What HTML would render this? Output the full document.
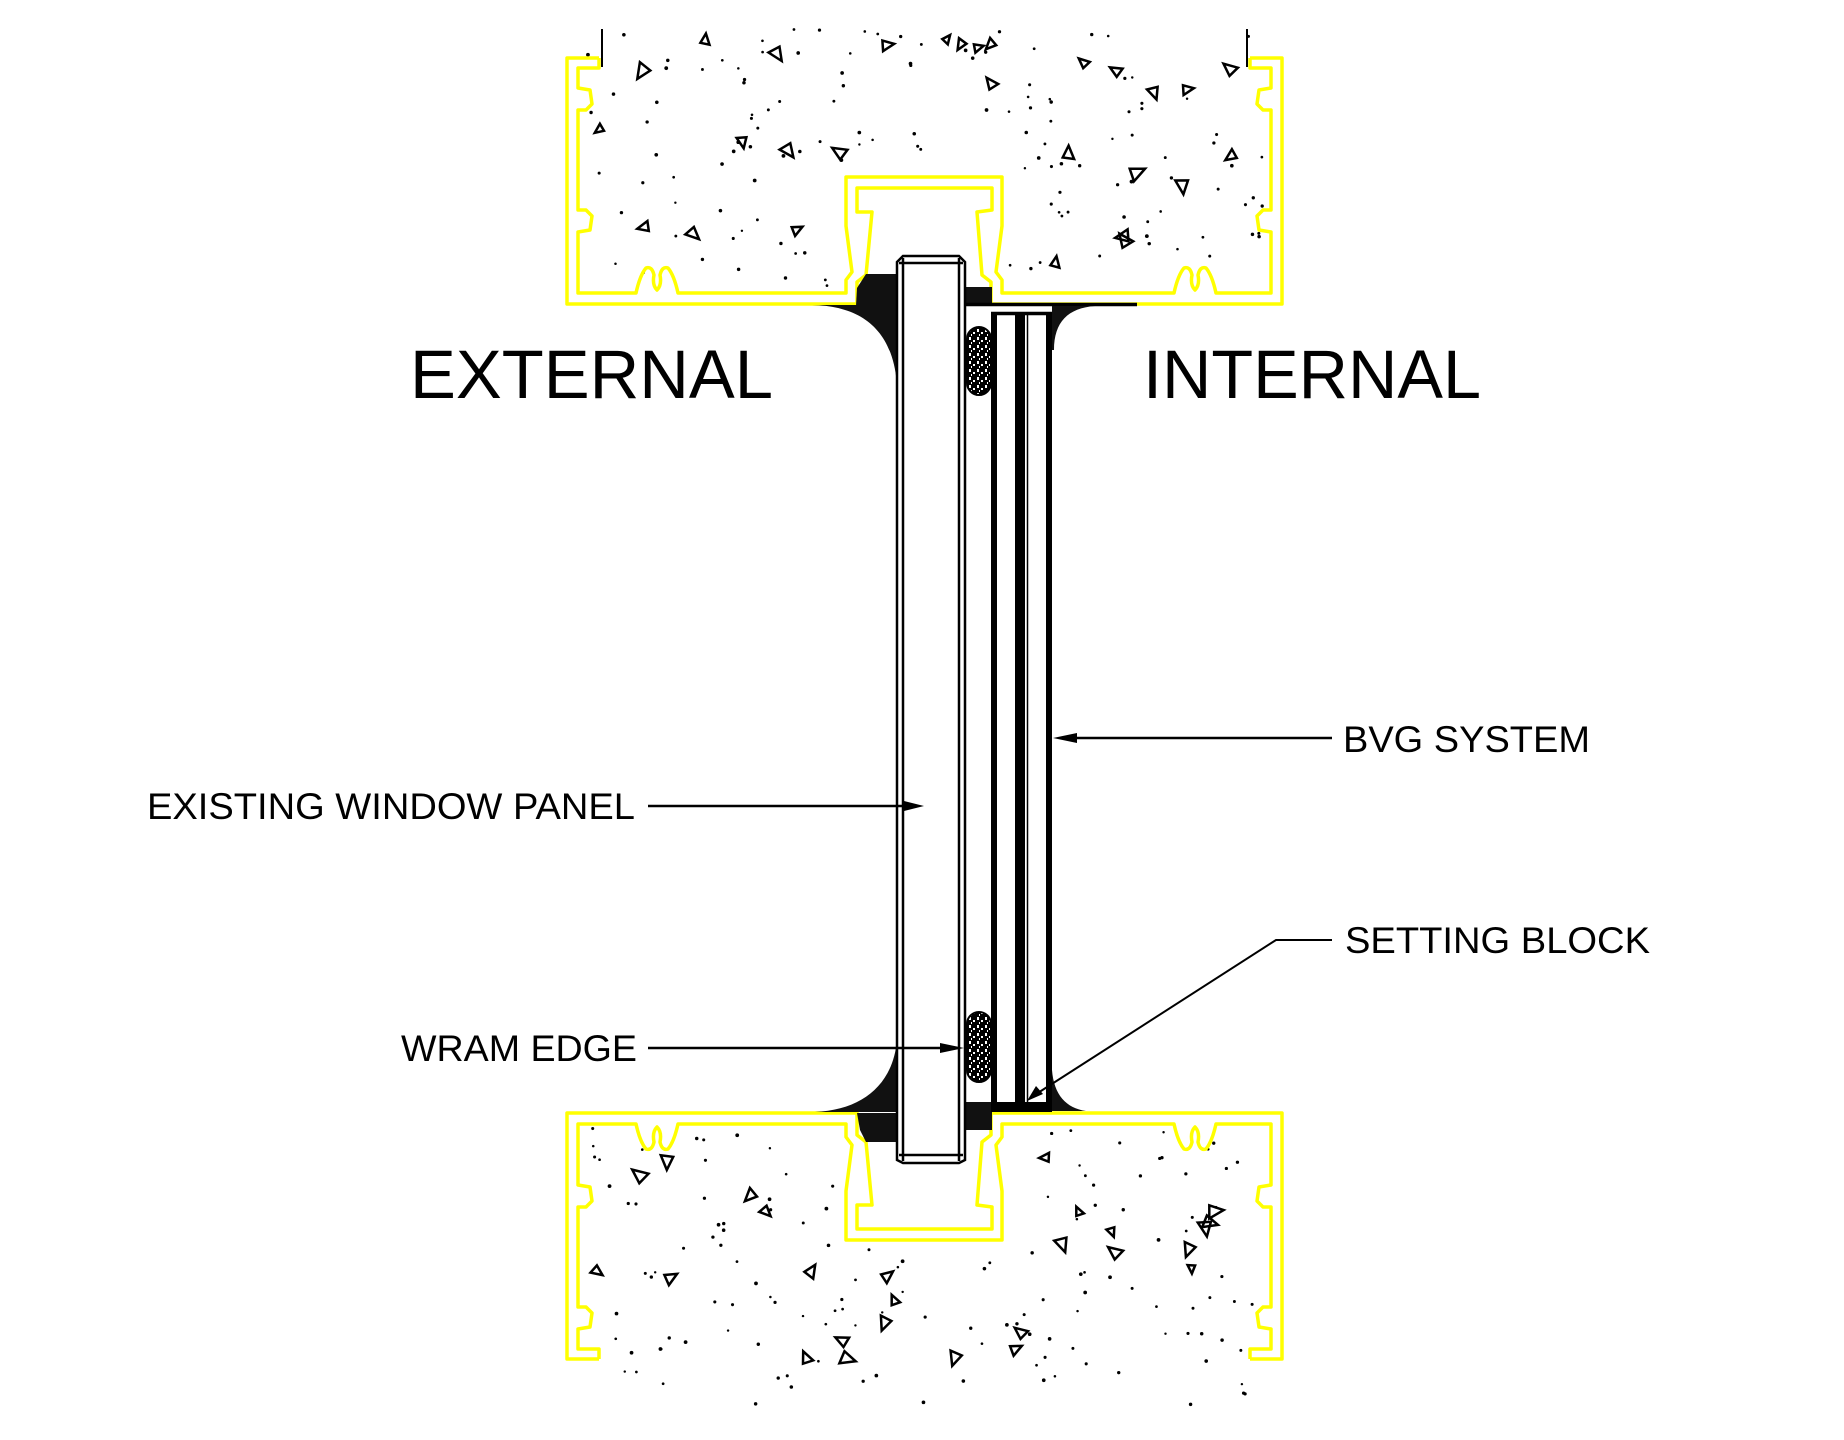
<!DOCTYPE html>
<html><head><meta charset="utf-8"><style>
html,body{margin:0;padding:0;background:#fff;}
svg{display:block;}
text{font-family:"Liberation Sans",Arial,sans-serif;fill:#000;}
</style></head><body>
<svg id="s" width="1844" height="1440" viewBox="0 0 1844 1440" xmlns="http://www.w3.org/2000/svg">
<defs>
<pattern id="sp" width="8" height="8" patternUnits="userSpaceOnUse">
<rect width="8" height="8" fill="#000"/>
<rect x="1" y="1" width="2" height="3" fill="#fff"/><rect x="5" y="4" width="2" height="2" fill="#fff"/><rect x="3" y="6" width="1" height="2" fill="#fff"/>
</pattern>
<g id="frame">
<path d="M599,58 L567,58 L567,304 L857,304 L857,282 L866,275 L872,212 L857,212 L857,188 L992,188 L992,210 L977,212 L982,275 L991,282 L991,304 L1282,304 L1282,58 L1250,58" fill="none" stroke="#ff0" stroke-width="3.5" stroke-linejoin="round"/>
<path d="M599,58 L599,68 L578,68 L578,88 L590,90 L592,104 L586,110 L578,110 L578,210 L586,210 L592,216 L590,230 L578,232 L578,293 L636,293 Q640,275 646,268 Q652,266 654,275 Q652,285 657,290 Q662,285 660,275 Q662,266 668,268 Q674,275 678,293 L846,293 L846,280 L852,272 L846,226 L846,177 L1002,177 L1002,226 L996,272 L1002,280 L1002,293 L1174,293 Q1178,275 1184,268 Q1190,266 1192,275 Q1190,285 1195,290 Q1200,285 1198,275 Q1200,266 1206,268 Q1212,275 1216,293 L1271,293 L1271,232 L1259,230 L1257,216 L1263,210 L1271,210 L1271,110 L1263,110 L1257,104 L1259,90 L1271,88 L1271,68 L1250,68 L1250,58" fill="none" stroke="#ff0" stroke-width="3.5" stroke-linejoin="round"/>
</g>
</defs>
<g id="conc"></g>
<use href="#frame"/>
<use href="#frame" transform="translate(0,1417) scale(1,-1)"/>
<line x1="602" y1="29" x2="602" y2="67" stroke="#000" stroke-width="2"/>
<line x1="1247" y1="29" x2="1247" y2="67" stroke="#000" stroke-width="2"/>

<path d="M866,274 L897,274 L897,306 L856,306 L857,288 Z" fill="#111"/>
<path d="M812,305 C862,306 893,330 897,385 L897,305 Z" fill="#111"/>
<rect x="966" y="287" width="26" height="17" fill="#111"/>
<line x1="966" y1="304.5" x2="1137" y2="304.5" stroke="#000" stroke-width="3.5"/>
<path d="M1052,306 L1095,306 C1068,308 1054,322 1054,350 L1052,350 Z" fill="#111"/>
<path d="M857,1113 L897,1113 L897,1142 L866,1142 L860,1130 Z" fill="#111"/>
<path d="M815,1112 C862,1110 893,1085 897,1040 L897,1112 Z" fill="#111"/>
<rect x="966" y="1102" width="26" height="28" fill="#111"/>
<path d="M1052,1111 L1086,1111 C1066,1108 1054,1095 1052,1070 Z" fill="#111"/>

<path d="M897,1160 L897,262 L903,256 L959,256 L965,262 L965,1160 L959,1163 L903,1163 Z" fill="#fff" stroke="#000" stroke-width="2.5"/>
<line x1="903" y1="258" x2="903" y2="1161" stroke="#000" stroke-width="2.5"/>
<line x1="959" y1="258" x2="959" y2="1161" stroke="#000" stroke-width="2.5"/>
<line x1="899" y1="263" x2="963" y2="263" stroke="#000" stroke-width="2.5"/>
<line x1="899" y1="1155" x2="963" y2="1155" stroke="#000" stroke-width="2.5"/>

<rect x="967" y="327" width="24" height="68" rx="12" fill="url(#sp)" stroke="#000" stroke-width="2"/>
<rect x="967" y="1012" width="24" height="70" rx="12" fill="url(#sp)" stroke="#000" stroke-width="2"/>

<line x1="994" y1="312" x2="994" y2="1112" stroke="#000" stroke-width="6"/>
<rect x="1015" y="313" width="10" height="795" fill="#000"/>
<line x1="1027.5" y1="313" x2="1027.5" y2="1108" stroke="#000" stroke-width="1.5"/>
<line x1="1049" y1="312" x2="1049" y2="1112" stroke="#000" stroke-width="6"/>
<line x1="991" y1="313.5" x2="1052" y2="313.5" stroke="#000" stroke-width="3.5"/>
<rect x="995" y="1102" width="54" height="10" fill="#000"/>

<text x="410" y="398" font-size="69" textLength="363" lengthAdjust="spacingAndGlyphs">EXTERNAL</text>
<text x="1143" y="398" font-size="69" textLength="338" lengthAdjust="spacingAndGlyphs">INTERNAL</text>
<text x="1343" y="752" font-size="37" textLength="247" lengthAdjust="spacingAndGlyphs">BVG SYSTEM</text>
<text x="1345" y="953" font-size="37" textLength="305" lengthAdjust="spacingAndGlyphs">SETTING BLOCK</text>
<text x="147" y="819" font-size="37" textLength="488" lengthAdjust="spacingAndGlyphs">EXISTING WINDOW PANEL</text>
<text x="401" y="1061" font-size="37" textLength="236" lengthAdjust="spacingAndGlyphs">WRAM EDGE</text>

<g stroke="#000" stroke-width="2.5" fill="none">
<line x1="1332" y1="738" x2="1060" y2="738"/>
<line x1="648" y1="806" x2="915" y2="806"/>
<line x1="648" y1="1048" x2="955" y2="1048"/>
<polyline points="1332,940 1276,940 1030,1098" stroke-width="2"/>
</g>
<g fill="#000">
<polygon points="1053,738 1077,733 1077,743"/>
<polygon points="924,806 904,801 904,811"/>
<polygon points="964,1048 940,1043 940,1053"/>
<polygon points="1027,1101 1036,1086 1043,1094"/>
</g>
</svg>
<script>
(function(){
var s=12345;function r(){s=(s*1103515245+12345)%2147483648;return s/2147483648;}
var g=document.getElementById('conc');var ns='http://www.w3.org/2000/svg';
function fill(x0,x1,y0,y1,cx0,cx1,cy0,cy1,nd,nt){
 for(var i=0;i<nd;i++){var x=x0+r()*(x1-x0),y=y0+r()*(y1-y0);if(x>cx0&&x<cx1&&y>cy0&&y<cy1)continue;
  var c=document.createElementNS(ns,'circle');c.setAttribute('cx',x);c.setAttribute('cy',y);c.setAttribute('r',1.2+r()*0.7);g.appendChild(c);}
 for(var j=0;j<nt;j++){var x=x0+10+r()*(x1-x0-20),y=y0+10+r()*(y1-y0-20);if(x>cx0-10&&x<cx1+10&&y>cy0-10&&y<cy1+10)continue;
  var a=r()*6.28,sz=5+r()*4,pts=[];for(var k=0;k<3;k++){var b=a+k*2.09+(k==1?0.4:0);pts.push((x+Math.cos(b)*sz).toFixed(1)+','+(y+Math.sin(b)*sz).toFixed(1));}
  var p=document.createElementNS(ns,'polygon');p.setAttribute('points',pts.join(' '));p.setAttribute('fill','none');p.setAttribute('stroke','#000');p.setAttribute('stroke-width','2.5');g.appendChild(p);}
}
fill(585,1265,28,290,840,1008,170,310,150,30);
fill(585,1265,1128,1405,840,1008,1105,1248,150,30);
})();
</script>
</body></html>
